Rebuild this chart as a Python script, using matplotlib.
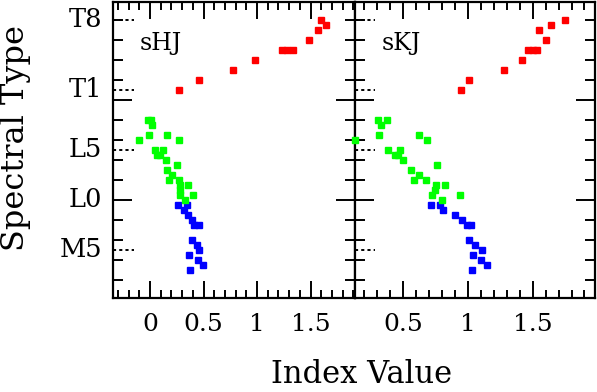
"""
Spectral type vs. sHJ / sKJ index for M, L and T dwarfs (two panels, shared y).
"""

import matplotlib
matplotlib.use("Agg")
import matplotlib.pyplot as plt
from matplotlib.ticker import MultipleLocator, FuncFormatter

plt.rcParams['font.family'] = ['DejaVu Serif']

# spectral type code: M0 = 0, L0 = 10, T0 = 20
sptype_ticks = [5, 10, 15, 21, 28]
sptype_labels = ['M5', 'L0', 'L5', 'T1', 'T8']
dotted_ticks = [5, 15, 21, 28]

# M dwarfs (blue)
m_spt = [9.5, 9.5, 9, 8.5, 8, 7.5, 7.5, 6, 5.5, 5, 4.5, 4, 3.5, 3]
m_shj = [0.259, 0.343, 0.318, 0.358, 0.39, 0.411, 0.455, 0.393, 0.436, 0.455,
         0.364, 0.452, 0.498, 0.377]
m_skj = [0.715, 0.784, 0.81, 0.903, 0.953, 0.991, 1.022, 1.007, 1.056, 1.11,
         1.037, 1.102, 1.146, 1.033]

# L dwarfs (green)
l_spt = [18, 18, 17.5, 16.5, 16.5, 16, 16, 15, 15, 14.5, 14.5, 14, 13.5, 13,
         12.5, 12, 12, 11.5, 11.5, 11, 10.5, 10.5, 10]
l_shj = [-0.022, 0.007, 0.016, -0.009, 0.156, -0.103, 0.271, 0.047, 0.124,
         0.068, 0.093, 0.15, 0.249, 0.162, 0.203, 0.181, 0.271, 0.28, 0.358,
         0.28, 0.399, 0.28, 0.327]
l_skj = [0.304, 0.371, 0.325, 0.309, 0.622, 0.126, 0.681, 0.381, 0.474,
         0.436, 0.457, 0.5, 0.764, 0.557, 0.624, 0.583, 0.674, 0.751, 0.826,
         0.746, 0.722, 0.937, 0.798]

# T dwarfs (red)
t_spt = [28, 27.5, 27, 26, 25, 25, 25, 24, 23, 22, 21]
t_shj = [1.595, 1.645, 1.57, 1.483, 1.23, 1.283, 1.34, 0.981, 0.779, 0.461, 0.274]
t_skj = [1.746, 1.643, 1.552, 1.604, 1.464, 1.50, 1.534, 1.418, 1.275, 1.007, 0.945]

panel_names = ['sHJ', 'sKJ']
panel_xlim = [(-0.345, 1.915), (0.127, 1.981)]


def style_axis(ax, xlim, show_labels):
    ax.set_xlim(*xlim)
    ax.set_ylim(0.2, 29.8)
    for sp in ax.spines.values():
        sp.set_linewidth(1.6)
    ax.xaxis.set_major_locator(MultipleLocator(0.5))
    ax.xaxis.set_minor_locator(MultipleLocator(0.1))
    ax.xaxis.set_major_formatter(FuncFormatter(lambda v, p: f'{v:g}'))
    ax.yaxis.set_major_locator(MultipleLocator(10))
    ax.yaxis.set_minor_locator(MultipleLocator(2))
    ax.tick_params(axis='x', which='major', direction='in', length=12, width=1.4,
                   top=True, bottom=True, labelsize=18, pad=11)
    ax.tick_params(axis='x', which='minor', direction='in', length=6, width=1.4,
                   top=True, bottom=True)
    ax.tick_params(axis='y', which='major', direction='in', length=14, width=1.4,
                   left=True, right=True, labelleft=False)
    ax.tick_params(axis='y', which='minor', direction='in', length=7, width=1.4,
                   left=True, right=True)
    # dotted ticks marking the labelled spectral types
    ytr = ax.get_yaxis_transform()
    for v in dotted_ticks:
        ax.plot([0, 0.085], [v, v], transform=ytr, color='black', lw=1.4,
                ls=(0, (1.6, 1.6)), clip_on=False)
    if show_labels:
        for v, lab in zip(sptype_ticks, sptype_labels):
            ax.text(-0.045, v, lab, transform=ytr, ha='right', va='center',
                    fontsize=18.5)


def main():
    fig = plt.figure(figsize=(5.97, 3.92), dpi=100)
    ax1 = fig.add_axes([0.1893, 0.2398, 0.4054, 0.7551])
    ax2 = fig.add_axes([0.5946, 0.2398, 0.4020, 0.7551])

    groups = [
        (m_spt, m_shj, m_skj, '#0000ff'),
        (l_spt, l_shj, l_skj, '#00ff00'),
        (t_spt, t_shj, t_skj, '#ff0000'),
    ]
    for ax, idx, name, xlim in zip([ax1, ax2], [1, 2], panel_names, panel_xlim):
        style_axis(ax, xlim, show_labels=(idx == 1))
        for g in groups:
            ax.plot(g[idx], g[0], ls='none', marker='s', ms=5.0, color=g[3],
                    mec=g[3], clip_on=False, zorder=3)
        ax.text(0.11, 0.838, name, transform=ax.transAxes, fontsize=17,
                ha='left', va='baseline')

    fig.text(0.606, 0.006, 'Index Value', ha='center', va='bottom',
             fontsize=22)
    fig.text(0.0, 0.648, 'Spectral Type', ha='left', va='center',
             rotation=90, fontsize=23)

    fig.savefig('out.png', dpi=100)
    plt.close(fig)


if __name__ == "__main__":
    main()
